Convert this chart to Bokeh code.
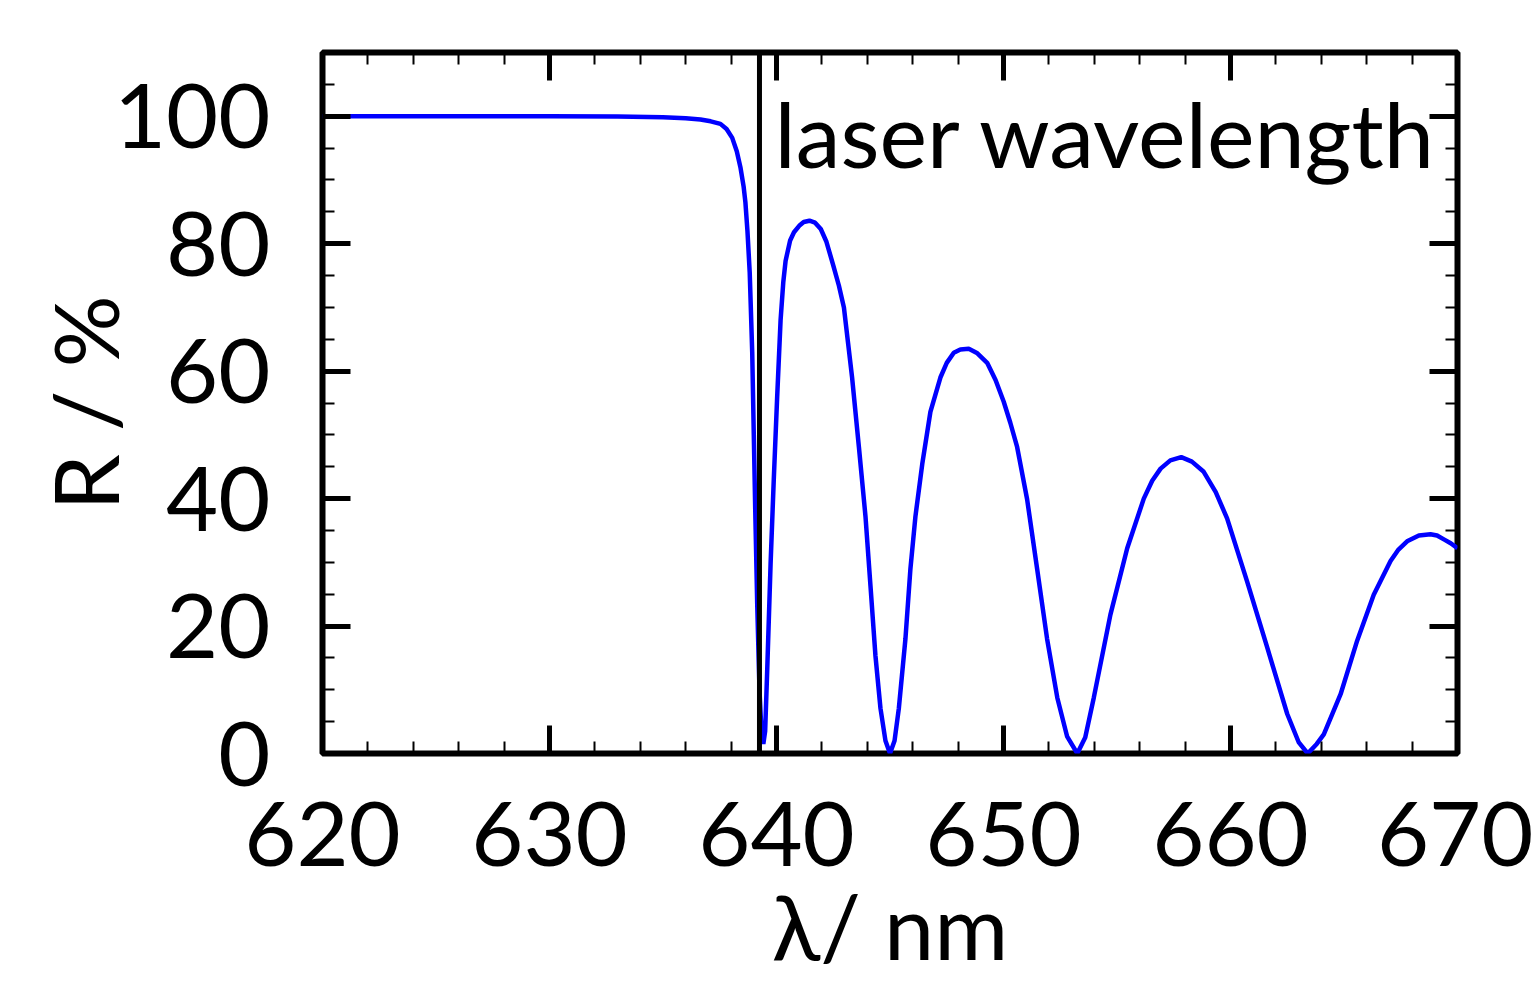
from bokeh.plotting import figure
from bokeh.models import LinearAxis, FixedTicker, Span, Label, Range1d, CustomJSTickFormatter
from bokeh.embed import file_html
from bokeh.resources import INLINE

# ---- data ----
wavelength_nm = [
    620.0, 625.0, 630.0, 633.0, 635.0, 636.0, 636.65, 637.1, 637.53, 637.8,
    638.05, 638.25, 638.41, 638.55, 638.63, 638.72, 638.82, 638.93, 639.0, 639.07,
    639.15, 639.25, 639.33, 639.42, 639.5, 639.59, 639.74, 639.88, 640.03, 640.18,
    640.3, 640.4, 640.6, 640.77, 641.0, 641.2, 641.45, 641.7, 641.95, 642.2,
    642.5, 642.75, 642.97, 643.15, 643.33, 643.63, 643.92, 644.14, 644.36, 644.58,
    644.8, 645.0, 645.2, 645.39, 645.68, 645.9, 646.12, 646.42, 646.78, 647.22,
    647.5, 647.81, 648.1, 648.47, 648.85, 649.28, 649.65, 650.01, 650.3, 650.6,
    651.04, 651.48, 651.92, 652.37, 652.8, 653.25, 653.6, 653.98, 654.71, 655.45,
    656.18, 656.55, 656.92, 657.35, 657.83, 658.3, 658.82, 659.35, 659.85, 660.73,
    661.62, 662.5, 663.0, 663.4, 663.8, 664.11, 664.85, 665.58, 666.31, 667.05,
    667.4, 667.78, 668.3, 668.81, 669.1, 669.4, 669.7, 670.0,
]
reflectance_pct = [
    100.0, 100.0, 100.0, 99.95, 99.85, 99.7, 99.5, 99.2, 98.8, 98.0,
    96.6, 94.5, 92.0, 89.0, 86.5, 82.0, 75.5, 63.0, 50.0, 37.0,
    23.5, 10.0, 4.0, 1.5, 3.5, 13.0, 29.8, 43.0, 56.0, 68.0,
    74.0, 77.3, 80.5, 81.8, 82.8, 83.4, 83.6, 83.3, 82.3, 80.3,
    76.6, 73.4, 70.0, 64.5, 59.0, 48.1, 37.2, 26.3, 15.3, 7.1,
    2.0, 0.0, 2.0, 7.1, 18.0, 29.0, 37.2, 45.4, 53.6, 59.0,
    61.3, 62.9, 63.4, 63.5, 62.8, 61.3, 58.6, 55.2, 51.9, 48.1,
    39.9, 29.0, 18.0, 8.75, 2.7, 0.0, 2.5, 8.8, 21.8, 32.2,
    40.0, 42.8, 44.7, 46.0, 46.5, 45.8, 44.2, 41.0, 36.9, 27.0,
    16.6, 6.2, 1.8, 0.0, 1.5, 3.0, 9.3, 17.7, 24.9, 30.2,
    32.0, 33.3, 34.2, 34.4, 34.2, 33.6, 33.0, 32.2,
]
laser_nm = 639.25
laser_text = "laser wavelength"

x_major_ticks = [620, 630, 640, 650, 660, 670]
x_minor_ticks = [v for v in range(620, 672, 2) if v % 10 != 0]
y_major_ticks = [0, 20, 40, 60, 80, 100]
y_minor_ticks = [v for v in range(0, 111, 5) if v % 20 != 0]
x_label = "λ/ nm"
y_label = "R / %"

FONT = "Lato"
FS = "90px"

p = figure(width=1533, height=982,
           x_range=Range1d(620, 670), y_range=Range1d(0, 110),
           output_backend="svg", toolbar_location=None,
           min_border_left=322, min_border_right=76,
           min_border_top=52, min_border_bottom=229)
p.grid.visible = False
p.outline_line_color = "black"
p.outline_line_width = 6
p.background_fill_color = "white"
p.border_fill_color = "white"

p.line(wavelength_nm, reflectance_pct, line_color="#0000ff", line_width=4.5)

p.add_layout(Span(location=laser_nm, dimension="height", line_color="black", line_width=5))
p.add_layout(Label(x=laser_nm, y=97.4, x_offset=15, text=laser_text,
                   text_font=FONT, text_font_size=FS, text_color="black",
                   text_baseline="alphabetic", text_align="left"))


def style_axis(ax, show_labels):
    ax.axis_line_color = None
    ax.major_tick_in = 28
    ax.major_tick_out = 0
    ax.major_tick_line_width = 5
    ax.major_tick_line_color = "black"
    ax.minor_tick_in = 12
    ax.minor_tick_out = 0
    ax.minor_tick_line_width = 2
    ax.minor_tick_line_color = "black"
    if show_labels:
        ax.major_label_text_font = FONT
        ax.major_label_text_font_size = FS
        ax.major_label_text_color = "black"
        ax.axis_label_text_font = FONT
        ax.axis_label_text_font_size = FS
        ax.axis_label_text_font_style = "normal"
        ax.axis_label_text_color = "black"
    else:
        ax.formatter = CustomJSTickFormatter(code="return ''")
        ax.major_label_standoff = 0
        ax.major_label_text_font_size = "1px"


xt = FixedTicker(ticks=x_major_ticks, minor_ticks=x_minor_ticks)
yt = FixedTicker(ticks=y_major_ticks, minor_ticks=y_minor_ticks)

xa = p.xaxis[0]
xa.ticker = xt
style_axis(xa, True)
xa.axis_label = x_label
xa.major_label_standoff = 48
xa.axis_label_standoff = 2

ya = p.yaxis[0]
ya.ticker = yt
style_axis(ya, True)
ya.axis_label = y_label
ya.major_label_standoff = 52
ya.axis_label_standoff = -27

top_ax = LinearAxis(ticker=FixedTicker(ticks=x_major_ticks, minor_ticks=x_minor_ticks))
style_axis(top_ax, False)
p.add_layout(top_ax, "above")

right_ax = LinearAxis(ticker=FixedTicker(ticks=y_major_ticks, minor_ticks=y_minor_ticks))
style_axis(right_ax, False)
p.add_layout(right_ax, "right")

open("out.html", "w").write(file_html(p, INLINE))
